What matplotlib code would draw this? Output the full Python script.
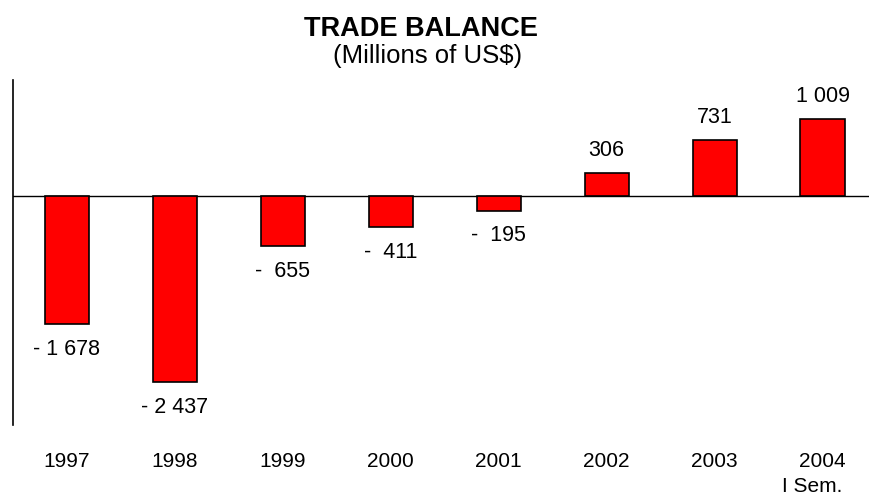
import matplotlib.pyplot as plt

plt.rcParams['font.family'] = ['Liberation Sans', 'DejaVu Sans']

years = ['1997', '1998', '1999', '2000', '2001', '2002', '2003', '2004']
balance = [-1678, -2437, -655, -411, -195, 306, 731, 1009]
labels = ['- 1 678', '- 2 437', '-  655', '-  411', '-  195', '306', '731', '1 009']

fig = plt.figure(figsize=(8.69, 4.99), dpi=100)
ax = fig.add_axes([13 / 869, 74 / 499, 1 - 13 / 869, 345 / 499])

x = list(range(len(years)))
ax.bar(x, balance, width=0.41, color='#ff0000', edgecolor='black', linewidth=1.2, zorder=3)
ax.axhline(0, color='black', linewidth=1.0, zorder=2)

for xi, v, lab in zip(x, balance, labels):
    off = 16 if v > 0 else -18
    ax.annotate(lab, (xi, v), xytext=(0, off), textcoords='offset points',
                ha='center', va='center', fontsize=15.5)

ax.set_xlim(-0.5, 7.43)
ax.set_ylim(-2995, 1516)
ax.set_xticks(x)
ax.set_xticklabels(years, fontsize=15)
ax.set_yticks([])
ax.tick_params(axis='x', length=0, pad=19.5)
for side in ['top', 'right', 'bottom']:
    ax.spines[side].set_visible(False)
ax.spines['left'].set_linewidth(1.2)

# first-semester note under the last year, right-aligned with it
ax.annotate('I Sem.', (x[-1], 0), xycoords=ax.get_xaxis_transform(),
            xytext=(14.5, -44.5), textcoords='offset points',
            ha='right', va='center', fontsize=15)

fig.text(421 / 869, 1 - 29 / 499, 'TRADE BALANCE', ha='center', va='center',
         fontsize=19.5, fontweight='bold')
fig.text(428 / 869, 1 - 56 / 499, '(Millions of US$)', ha='center', va='center',
         fontsize=18.5)

fig.savefig('out.png', dpi=100)
